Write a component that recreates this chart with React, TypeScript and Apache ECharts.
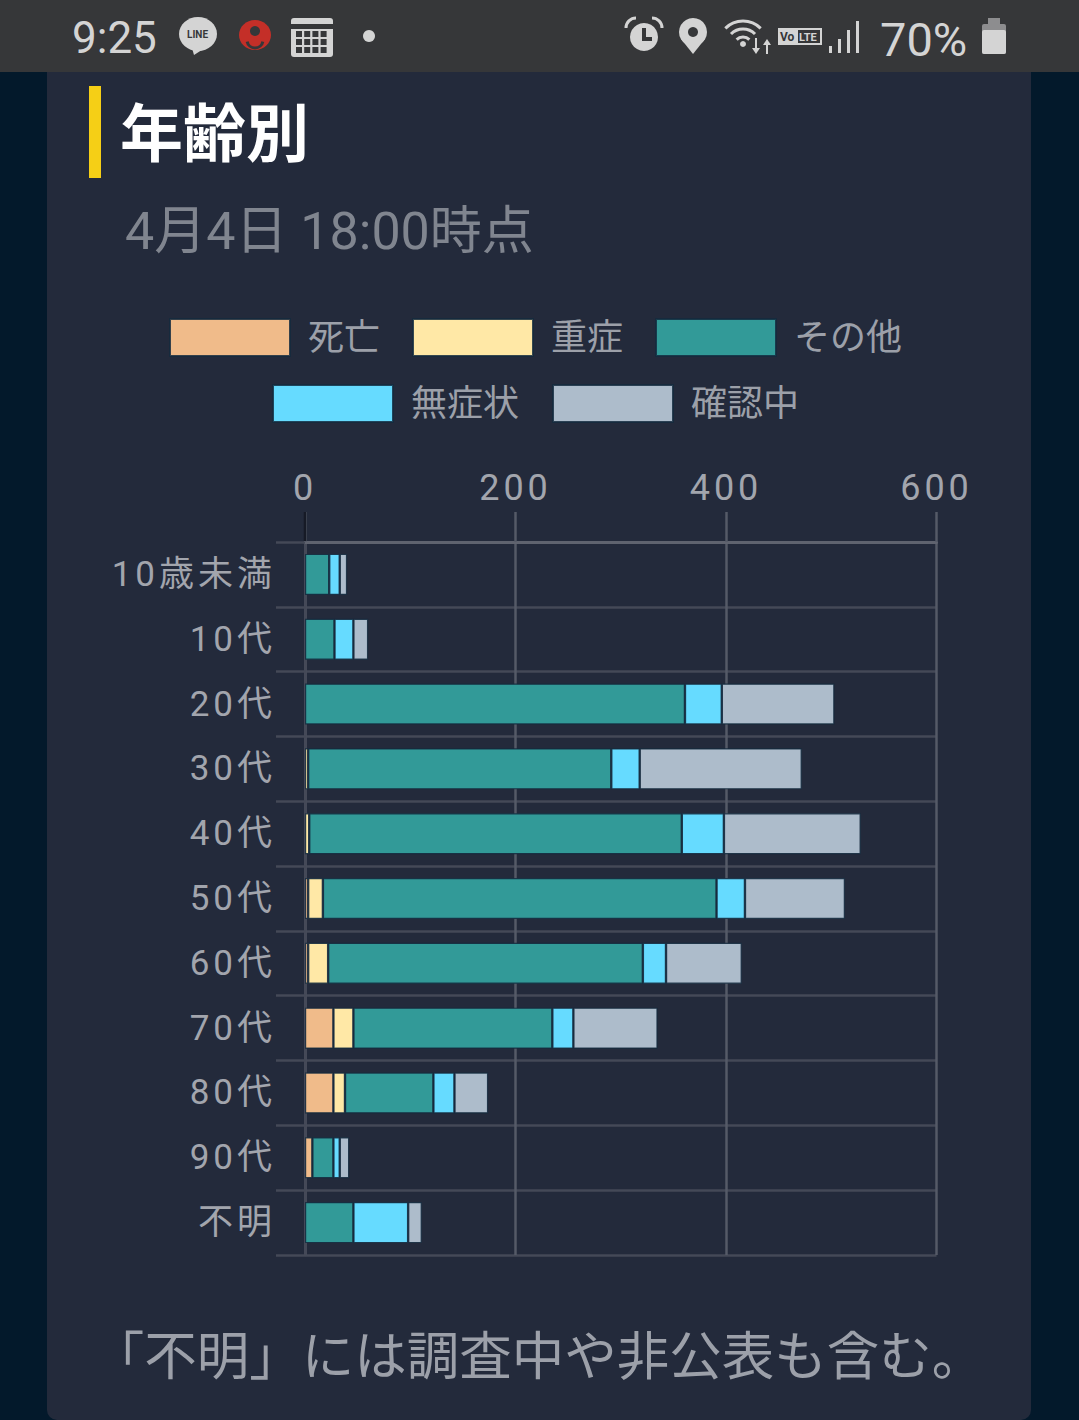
import React, { useEffect, useRef } from "react";
import * as echarts from "echarts";

const categories = ["10歳未満", "10代", "20代", "30代", "40代", "50代", "60代", "70代", "80代", "90代", "不明"];
const seriesNames = ["死亡", "重症", "その他", "無症状", "確認中"];
const deaths = [null, null, null, null, null, 3, 3, 27, 27, 7, null];
const severe = [null, null, null, 3, 4, 14, 19, 19, 11, null, null];
const others = [23, 28, 361, 288, 354, 374, 299, 189, 84, 20, 46];
const asymptomatic = [10, 18, 35, 27, 40, 27, 22, 20, 20, 6, 52];
const confirming = [7, 14, 107, 154, 130, 95, 72, 80, 32, 9, 13];
const seriesValues = [deaths, severe, others, asymptomatic, confirming];
const seriesColors = ["#f0bb8a", "#ffe8a6", "#329a98", "#66dbff", "#adbccb"];
const xTicks = [0, 200, 400, 600];

const SANS = "Roboto, 'Noto Sans CJK JP', sans-serif";
const ICON = "#d4d4d4";

function statusBar(): any[] {
  const txt = (text: string, x: number, y: number, fontSize: number, fill = ICON, extra: any = {}) => ({
    type: "text", x, y, z: 50,
    style: { text, fill, fontSize, fontFamily: SANS, textVerticalAlign: "middle", ...extra },
  });
  const rect = (x: number, y: number, width: number, height: number, fill = ICON, r = 0) => ({
    type: "rect", z: 50, shape: { x, y, width, height, r }, style: { fill },
  });
  const arc = (cx: number, cy: number, r: number, a: number, b: number, w = 3, stroke = ICON) => ({
    type: "arc", z: 50, shape: { cx, cy, r, startAngle: a, endAngle: b }, style: { stroke, lineWidth: w, fill: "none" },
  });
  const tri = (p: number[][]) => ({ type: "polygon", z: 50, shape: { points: p }, style: { fill: ICON } });
  const els: any[] = [
    rect(0, 0, 1079, 72, "#363739"),
    txt("9:25", 72, 38, 44),
    { type: "ellipse", z: 50, shape: { cx: 198, cy: 34, rx: 19, ry: 17 }, style: { fill: ICON } },
    tri([[192, 48], [205, 48], [194, 55]]),
    txt("LINE", 187, 34, 10, "#363739", { fontWeight: "bold" }),
    { type: "ellipse", z: 50, shape: { cx: 255, cy: 35, rx: 16, ry: 15 }, style: { fill: "#c42f28" } },
    { type: "circle", z: 50, shape: { cx: 255, cy: 31, r: 5 }, style: { fill: "#363739" } },
    arc(255, 40, 8, 0.2, Math.PI - 0.2, 3, "#363739"),
    rect(291, 18, 42, 39, ICON, 3),
    rect(291, 24, 42, 5, "#363739"),
  ];
  for (let r = 0; r < 3; r++) for (let c = 0; c < 4; c++) els.push(rect(296 + c * 8.2, 31 + r * 8, 6, 6, "#363739"));
  els.push(
    { type: "circle", z: 50, shape: { cx: 369, cy: 36, r: 6 }, style: { fill: ICON } },
    // alarm
    { type: "circle", z: 50, shape: { cx: 644, cy: 37, r: 14 }, style: { fill: ICON } },
    { type: "polyline", z: 50, shape: { points: [[644, 28], [644, 39], [652, 39]] }, style: { stroke: "#363739", lineWidth: 4, fill: "none" } },
    arc(636, 28, 10, Math.PI, 1.5 * Math.PI, 3),
    arc(652, 28, 10, 1.5 * Math.PI, 2 * Math.PI, 3),
    // location
    { type: "circle", z: 50, shape: { cx: 693, cy: 32, r: 14 }, style: { fill: ICON } },
    tri([[681, 39], [705, 39], [693, 54]]),
    { type: "circle", z: 50, shape: { cx: 693, cy: 32, r: 5 }, style: { fill: "#363739" } },
    // wifi
    arc(743, 46, 25, 1.25 * Math.PI, 1.75 * Math.PI),
    arc(743, 46, 17, 1.25 * Math.PI, 1.75 * Math.PI),
    arc(743, 46, 9, 1.25 * Math.PI, 1.75 * Math.PI),
    { type: "circle", z: 50, shape: { cx: 743, cy: 44, r: 3 }, style: { fill: ICON } },
    rect(755, 38, 2, 11), tri([[752, 48], [760, 48], [756, 54]]),
    rect(766, 44, 2, 10), tri([[763, 45], [771, 45], [767, 39]]),
    // VoLTE
    rect(778, 28, 44, 17),
    txt("Vo", 780, 37, 12, "#363739", { fontWeight: "bold" }),
    rect(798, 30, 22, 13, "#363739"),
    txt("LTE", 799, 37, 11, ICON, { fontWeight: "bold" }),
    // signal
    rect(829, 46, 3, 7), rect(838, 39, 3, 14), rect(847, 30, 3, 23), rect(856, 21, 3, 32),
    txt("70%", 880, 39, 47),
    // battery
    rect(988, 18, 12, 7, "#8d8d8f"),
    rect(982, 24, 24, 30, "#8d8d8f", 2),
    rect(982, 30, 24, 24, ICON, 2),
  );
  return els;
}

export default function App() {
  const ref = useRef<HTMLDivElement>(null);
  useEffect(() => {
    const chart = echarts.init(ref.current!, undefined, { renderer: "svg", width: 1079, height: 1420 });
    const legendBase = {
      orient: "horizontal" as const,
      itemWidth: 120,
      itemHeight: 37,
      icon: "rect",
      textStyle: { color: "#9ca0a9", fontSize: 36, fontFamily: SANS, padding: [0, 0, 0, 13] },
    };
    chart.setOption({
      animation: false,
      backgroundColor: "#03192b",
      textStyle: { fontFamily: SANS },
      graphic: [
        { type: "rect", z: -10, shape: { x: 47, y: 60, width: 984, height: 1360, r: 10 }, style: { fill: "#232a3b" } },
        { type: "rect", z: 5, shape: { x: 89, y: 86, width: 12, height: 92 }, style: { fill: "#f5cf16" } },
        { type: "text", z: 5, x: 120, y: 134, style: { text: "年齢別", fill: "#ffffff", fontSize: 63, fontWeight: "bold", fontFamily: SANS, textVerticalAlign: "middle" } },
        { type: "text", z: 5, x: 125, y: 231, style: { text: "4月4日 18:00時点", fill: "#80858f", fontSize: 52, fontFamily: SANS, textVerticalAlign: "middle" } },
        { type: "text", z: 5, x: 538, y: 1357, style: { text: "「不明」には調査中や非公表も含む。", fill: "#9ca0a9", fontSize: 52.5, fontFamily: SANS, textAlign: "center", textVerticalAlign: "middle" } },
        { type: "line", z: 5, shape: { x1: 305, y1: 512, x2: 305, y2: 541 }, style: { stroke: "#161a26", lineWidth: 2.5 } },
        ...statusBar(),
      ],
      legend: [
        { ...legendBase, itemGap: 32, data: seriesNames.slice(0, 3), left: 164, top: 313 },
        { ...legendBase, itemGap: 33, data: seriesNames.slice(3), left: 267, top: 379 },
      ],
      grid: { left: 305, top: 542, width: 631.5, height: 713, containLabel: false },
      xAxis: {
        type: "value", position: "top", min: xTicks[0], max: xTicks[xTicks.length - 1], interval: 200,
        axisLine: { show: true, lineStyle: { color: "#5f636f", width: 3 } },
        axisTick: { show: true, length: 30, lineStyle: { color: "#555a67", width: 2.5 } },
        splitLine: { show: true, lineStyle: { color: "#555a67", width: 2.5 } },
        axisLabel: { color: "#a2a5ad", fontSize: 36, margin: 36, fontFamily: SANS },
      },
      yAxis: {
        type: "category", inverse: true, data: categories,
        axisLine: { show: true, lineStyle: { color: "#444957", width: 2.5 } },
        axisTick: { show: true, length: 29, lineStyle: { color: "#444957", width: 2.5 } },
        splitLine: { show: true, lineStyle: { color: "#444957", width: 2.5 } },
        axisLabel: { color: "#a2a5ad", fontSize: 35, margin: 29, fontFamily: SANS, padding: [0, 0, 2, 0] },
      },
      series: seriesNames.map((name, i) => ({
        name, type: "bar", stack: "age", barWidth: 41, data: seriesValues[i],
        itemStyle: { color: seriesColors[i], borderColor: "rgba(20,42,62,0.85)", borderWidth: 1.2 },
      })),
    });
    // The reference's axis labels are letter-spaced; ECharts has no option for it.
    const spaced = new Set([...categories, ...xTicks.map(String)]);
    ref.current!.querySelectorAll("text").forEach((t) => {
      if (spaced.has(t.textContent || "")) (t as any).style.letterSpacing = "4px";
    });
    return () => chart.dispose();
  }, []);
  return <div ref={ref} style={{ position: "fixed", left: 0, top: 0, width: 1079, height: 1420 }} />;
}
